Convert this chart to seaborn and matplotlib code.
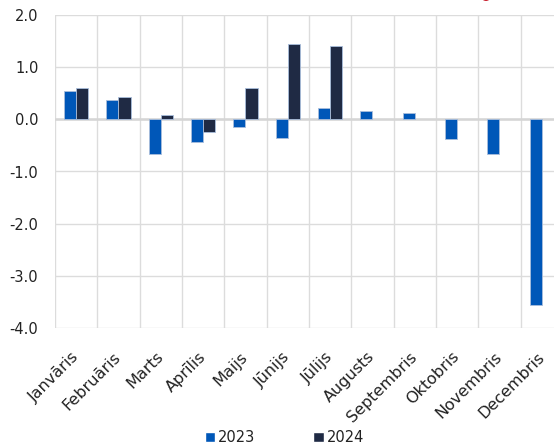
import numpy as np
import pandas as pd
import matplotlib
matplotlib.use("Agg")
import matplotlib.pyplot as plt
import seaborn as sns
from matplotlib.patches import Ellipse, Patch

months = ["Janvāris", "Februāris", "Marts", "Aprīlis", "Maijs", "Jūnijs",
          "Jūlijs", "Augusts", "Septembris", "Oktobris", "Novembris", "Decembris"]
v2023 = [0.54, 0.37, -0.67, -0.44, -0.14, -0.35, 0.21, 0.16, 0.13, -0.37, -0.67, -3.56]
v2024 = [0.60, 0.42, 0.09, -0.24, 0.60, 1.45, 1.40, np.nan, np.nan, np.nan, np.nan, np.nan]
series = ["2023", "2024"]
colors = ["#0057B8", "#1F2A44"]
yticks = [-4.0, -3.0, -2.0, -1.0, 0.0, 1.0, 2.0]

sns.set_theme(style="white")
plt.rcParams["font.family"] = ["DejaVu Sans"]

df = pd.DataFrame({
    "month": months * 2,
    "year": [series[0]] * 12 + [series[1]] * 12,
    "value": v2023 + v2024,
})

fig = plt.figure(figsize=(5.54, 4.45), dpi=100)
ax = fig.add_axes([55 / 554, 1 - 328 / 445, 508 / 554, 313 / 445])

sns.barplot(data=df, x="month", y="value", hue="year", order=months,
            hue_order=series, palette=colors, saturation=1, width=0.57, ax=ax,
            edgecolor="#A9BEDC", linewidth=0.6, legend=False, zorder=3)
for c in ax.containers:
    for b in c:
        b.set_zorder(3)

ax.set_xlim(-0.5, 11.5)
ax.set_ylim(-4.0, 2.0)
ax.set_yticks(yticks)
ax.set_yticklabels([f"{t:.1f}" for t in yticks])
ax.set_xticks(range(12))
ax.set_xticklabels(months, rotation=45, ha="right", va="center",
                   rotation_mode="anchor")
ax.set_xticks(np.arange(-0.5, 12, 1), minor=True)
ax.grid(False)
ax.grid(axis="y", which="major", color="#DCDCDC", lw=1.0, zorder=0)
ax.grid(axis="x", which="minor", color="#DCDCDC", lw=1.0, zorder=0)
ax.axhline(0, color="#D5D5D5", lw=1.8, zorder=2)
ax.tick_params(axis="both", which="both", length=0, labelsize=10.5,
               colors="#222222")
ax.tick_params(axis="y", pad=12)
ax.tick_params(axis="x", pad=19, labelsize=11.5)
ax.set_xlabel("")
ax.set_ylabel("")
for s in ax.spines.values():
    s.set_visible(False)

handles = [Patch(facecolor=colors[0]), Patch(facecolor=colors[1])]
fig.legend(handles, series, loc="lower center", bbox_to_anchor=(0.513, -0.03),
           ncol=2, frameon=False, fontsize=10.5, handlelength=0.7,
           handleheight=0.7, handletextpad=0.2, columnspacing=4.0,
           labelcolor="#222222")

# small red logo fragment at top edge
fig.patches.append(Ellipse((486 / 554, 1 + 4 / 445), 10 / 554, 10 / 445,
                           transform=fig.transFigure, facecolor="#C8202F",
                           edgecolor="none", figure=fig))

fig.savefig("out.png", dpi=100)
